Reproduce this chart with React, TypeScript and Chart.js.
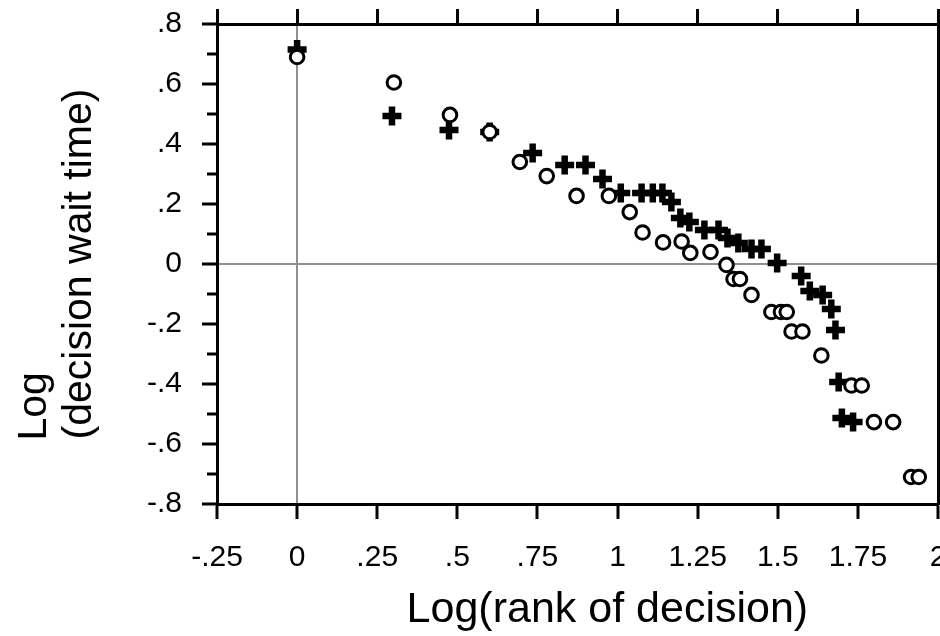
import React, { useEffect, useRef } from 'react';
import { Chart, registerables } from 'chart.js';

Chart.register(...registerables);

// Open circles series
const circleX = [0, 0.302, 0.477, 0.601, 0.695, 0.779, 0.872, 0.973, 1.038, 1.078, 1.142, 1.2, 1.227, 1.29, 1.34, 1.362, 1.382, 1.418, 1.48, 1.51, 1.528, 1.543, 1.577, 1.636, 1.73, 1.762, 1.8, 1.86, 1.916, 1.94];
const circleY = [0.69, 0.605, 0.497, 0.44, 0.34, 0.293, 0.227, 0.227, 0.173, 0.105, 0.072, 0.075, 0.037, 0.04, -0.003, -0.05, -0.05, -0.103, -0.16, -0.16, -0.16, -0.225, -0.225, -0.305, -0.405, -0.405, -0.527, -0.527, -0.71, -0.71];

// Bold crosses series
const crossX = [0, 0.296, 0.474, 0.601, 0.735, 0.835, 0.9, 0.953, 1.01, 1.075, 1.11, 1.14, 1.168, 1.196, 1.224, 1.271, 1.315, 1.343, 1.377, 1.418, 1.449, 1.498, 1.573, 1.6, 1.64, 1.667, 1.68, 1.69, 1.7, 1.735];
const crossY = [0.715, 0.493, 0.447, 0.44, 0.37, 0.33, 0.33, 0.283, 0.237, 0.237, 0.237, 0.237, 0.207, 0.153, 0.14, 0.113, 0.113, 0.087, 0.07, 0.05, 0.05, 0.003, -0.04, -0.09, -0.103, -0.15, -0.22, -0.393, -0.513, -0.527];

const xTickValues = [-0.25, 0, 0.25, 0.5, 0.75, 1, 1.25, 1.5, 1.75, 2];
const xTickLabels = ['-.25', '0', '.25', '.5', '.75', '1', '1.25', '1.5', '1.75', '2'];
const yTickValues = [-0.8, -0.7, -0.6, -0.5, -0.4, -0.3, -0.2, -0.1, 0, 0.1, 0.2, 0.3, 0.4, 0.5, 0.6, 0.7, 0.8];
const yTickLabels = ['-.8', '', '-.6', '', '-.4', '', '-.2', '', '0', '', '.2', '', '.4', '', '.6', '', '.8'];

const xTitle = 'Log(rank of decision)';
const yTitleLines = ['Log', '(decision wait time)'];

export default function App() {
  const ref = useRef<HTMLCanvasElement>(null);

  useEffect(() => {
    document.body.style.margin = '0';
    const FONT = "'Liberation Sans', Arial, Helvetica, sans-serif";
    const tickFont = { family: FONT, size: 30 };
    const setTicks = (vals: number[]) => (axis: any) => {
      axis.ticks = vals.map((v) => ({ value: v }));
    };
    const fitTo = (dim: 'width' | 'height', size: number) => (s: any) => {
      s[dim] = size;
      s.paddingTop = 0;
      s.paddingBottom = 0;
      s.paddingLeft = 0;
      s.paddingRight = 0;
    };
    const zeroColor = (c: any) => (c.tick && Math.abs(c.tick.value) < 1e-9 ? '#8f8f8f' : 'rgba(0,0,0,0)');

    const chart = new Chart(ref.current as HTMLCanvasElement, {
      type: 'scatter',
      data: {
        datasets: [
          {
            label: 'circles',
            data: circleX.map((x, i) => ({ x, y: circleY[i] })),
            pointStyle: 'circle',
            pointRadius: 6.8,
            pointHoverRadius: 6.8,
            borderWidth: 3,
            borderColor: '#000',
            backgroundColor: '#fff',
          },
          {
            label: 'crosses',
            data: crossX.map((x, i) => ({ x, y: crossY[i] })),
            pointStyle: 'cross',
            pointRadius: 9.5,
            pointHoverRadius: 9.5,
            borderWidth: 6.5,
            borderColor: '#000',
            backgroundColor: '#000',
          },
        ],
      },
      options: {
        responsive: false,
        animation: false,
        events: [],
        layout: { padding: 0, autoPadding: false },
        plugins: { legend: { display: false }, tooltip: { enabled: false } },
        scales: {
          x: {
            type: 'linear',
            position: 'bottom',
            min: -0.25,
            max: 2,
            afterBuildTicks: setTicks(xTickValues),
            afterFit: fitTo('height', 132),
            ticks: {
              callback: (_v: any, i: number) => xTickLabels[i],
              font: tickFont,
              color: '#000',
              padding: 21,
              maxRotation: 0,
              autoSkip: false,
            },
            grid: {
              drawOnChartArea: true,
              color: zeroColor,
              lineWidth: 2,
              drawTicks: true,
              tickLength: 15,
              tickColor: '#000',
              tickWidth: 3,
            },
            border: { display: true, color: '#000', width: 3 },
            title: {
              display: true,
              text: '     ' + xTitle,
              font: { family: FONT, size: 43, lineHeight: 1.2 },
              color: '#000',
              padding: { top: 0, bottom: 0 },
            },
          },
          x2: {
            type: 'linear',
            position: 'top',
            min: -0.25,
            max: 2,
            afterBuildTicks: setTicks(xTickValues),
            afterFit: fitTo('height', 24),
            ticks: { display: false },
            grid: {
              drawOnChartArea: false,
              drawTicks: true,
              tickLength: 15,
              tickColor: '#000',
              tickWidth: 3,
            },
            border: { display: true, color: '#000', width: 3 },
          },
          y: {
            type: 'linear',
            position: 'left',
            min: -0.8,
            max: 0.8,
            afterBuildTicks: setTicks(yTickValues),
            afterFit: fitTo('width', 217),
            ticks: {
              callback: (_v: any, i: number) => yTickLabels[i],
              font: tickFont,
              color: '#000',
              padding: 20,
              autoSkip: false,
            },
            grid: {
              drawOnChartArea: true,
              color: zeroColor,
              lineWidth: 2,
              drawTicks: true,
              tickLength: 15,
              tickColor: '#000',
              tickWidth: 3,
              tickBorderDash: (c: any) => (c.index % 2 ? [0, 5, 100] : []),
            },
            border: { display: true, color: '#000', width: 3 },
            title: {
              display: true,
              text: [yTitleLines[0] + ' '.repeat(25), yTitleLines[1]],
              font: { family: FONT, size: 41, lineHeight: 1.1 },
              color: '#000',
              padding: { top: 12.5, bottom: 0 },
            },
          },
          y2: {
            type: 'linear',
            position: 'right',
            min: -0.8,
            max: 0.8,
            afterBuildTicks: setTicks(yTickValues),
            afterFit: fitTo('width', 2),
            ticks: { display: false },
            grid: {
              drawOnChartArea: false,
              drawTicks: true,
              tickLength: 15,
              tickColor: '#000',
              tickWidth: 3,
              tickBorderDash: (c: any) => (c.index % 2 ? [9, 100] : []),
            },
            border: { display: true, color: '#000', width: 3 },
          },
        },
      } as any,
    });
    return () => chart.destroy();
  }, []);

  return <canvas ref={ref} width={940} height={636} style={{ display: 'block' }} />;
}
